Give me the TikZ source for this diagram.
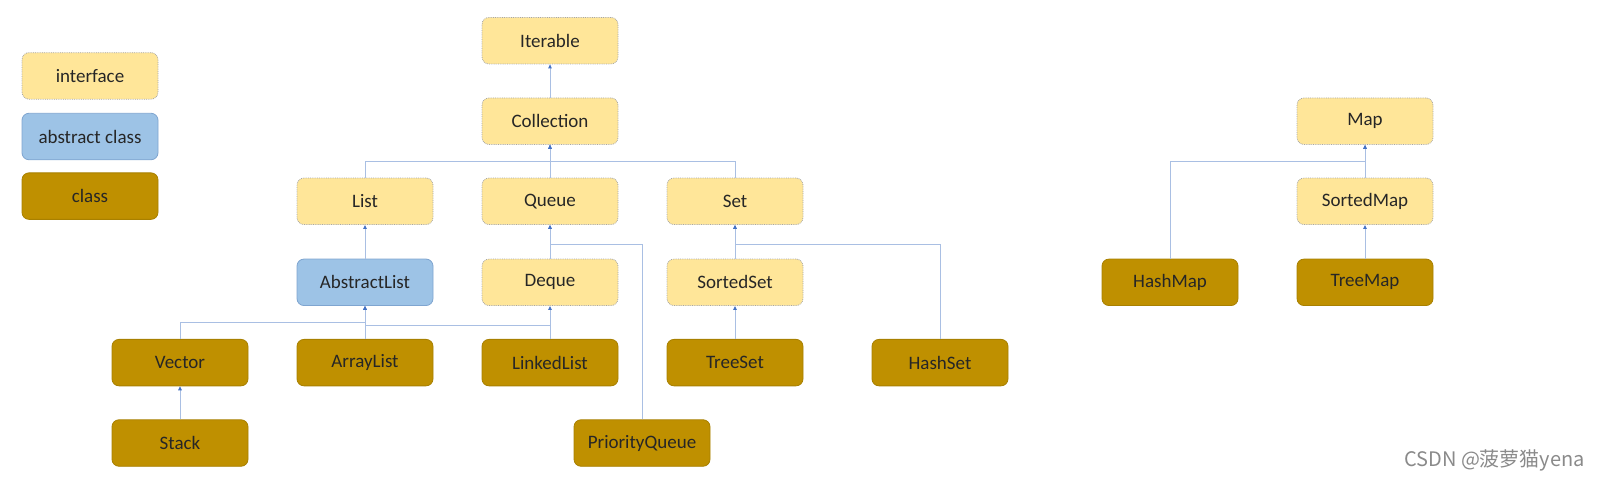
\documentclass[tikz,border=0pt]{standalone}
\usepackage{fontspec}
\setmainfont{Carlito}
\newfontfamily\cjk{Noto Sans CJK SC}
\usetikzlibrary{arrows.meta}
\definecolor{ifill}{HTML}{FFE699}
\definecolor{iborder}{HTML}{A6A6A6}
\definecolor{afill}{HTML}{9DC3E6}
\definecolor{aborder}{HTML}{7FA5D0}
\definecolor{cfill}{HTML}{BF9000}
\definecolor{cborder}{HTML}{A88000}
\definecolor{txt}{HTML}{262626}
\definecolor{lcol}{HTML}{A9BFE3}
\definecolor{acol}{HTML}{4472C4}
\definecolor{wm}{HTML}{8A8A8A}
\begin{document}
\begin{tikzpicture}[x=1pt,y=-1pt,
  box/.style={rounded corners=7pt, minimum width=136pt, minimum height=46.5pt, inner sep=0pt,
    font=\fontsize{19}{22}\selectfont, text=txt},
  iface/.style={box, fill=ifill, draw=iborder, densely dotted, line width=0.8pt},
  absc/.style={box, fill=afill, draw=aborder, line width=0.8pt},
  cls/.style={box, fill=cfill, draw=cborder, line width=0.8pt},
  conn/.style={draw=lcol, line width=0.9pt, -{Triangle[length=4pt,width=3.5pt,color=acol]}}]
\useasboundingbox (0,0) rectangle (1597,485);
% legend
\node[iface] (Lint) at (90,75.9) {interface};
\node[absc] (Labs) at (90,136.5) {abstract class};
\node[cls] (Lcls) at (90,196.1) {class};
% collection tree
\node[iface] (Iterable) at (550,40.7) {Iterable};
\node[iface] (Collection) at (550,121.2) {Collection};
\node[iface] (List) at (365,201.3) {List};
\node[iface] (Queue) at (550,201.3) {Queue};
\node[iface] (Set) at (735,201.3) {Set};
\node[absc] (AbstractList) at (365,282.3) {AbstractList};
\node[iface] (Deque) at (550,282.3) {Deque};
\node[iface] (SortedSet) at (735,282.3) {SortedSet};
\node[cls] (Vector) at (180,362.6) {Vector};
\node[cls] (ArrayList) at (365,362.6) {ArrayList};
\node[cls] (LinkedList) at (550,362.6) {LinkedList};
\node[cls] (TreeSet) at (735,362.6) {TreeSet};
\node[cls] (HashSet) at (940,362.6) {HashSet};
\node[cls] (Stack) at (180,443) {Stack};
\node[cls] (PriorityQueue) at (642,443) {PriorityQueue};
% map tree
\node[iface] (Map) at (1365,121.2) {Map};
\node[iface] (SortedMap) at (1365,201.3) {SortedMap};
\node[cls] (HashMap) at (1170,282.3) {HashMap};
\node[cls] (TreeMap) at (1365,282.3) {TreeMap};
% bus coordinates
\coordinate (cbus) at (550,161);
\coordinate (qbus) at (550,244);
\coordinate (sbus) at (735,244);
\coordinate (abus1) at (365,322);
\coordinate (abus2) at (365,325);
\coordinate (mbus) at (1365,161);
% connectors
\draw[conn] (Collection.north) -- (Iterable.south);
\draw[conn] (List.north) |- (cbus) -- (Collection.south);
\draw[conn] (Set.north) |- (cbus) -- (Collection.south);
\draw[conn] (Queue.north) -- (Collection.south);
\draw[conn] (AbstractList.north) -- (List.south);
\draw[conn] (Deque.north) -- (Queue.south);
\draw[conn] (PriorityQueue.north) |- (qbus) -- (Queue.south);
\draw[conn] (SortedSet.north) -- (Set.south);
\draw[conn] (HashSet.north) |- (sbus) -- (Set.south);
\draw[conn] (TreeSet.north) -- (SortedSet.south);
\draw[conn] (ArrayList.north) -- (AbstractList.south);
\draw[conn] (Vector.north) |- (abus1) -- (AbstractList.south);
\draw[conn] (LinkedList.north) |- (abus2) -- (AbstractList.south);
\draw[conn] (LinkedList.north) -- (Deque.south);
\draw[conn] (Stack.north) -- (Vector.south);
\draw[conn] (SortedMap.north) -- (Map.south);
\draw[conn] (HashMap.north) |- (mbus) -- (Map.south);
\draw[conn] (TreeMap.north) -- (SortedMap.south);
% footer
\node[anchor=east, text=wm, font=\cjk\fontsize{20}{24}\selectfont, inner sep=0pt] (csdn) at (1585,460) {CSDN @菠萝猫yena};
\end{tikzpicture}
\end{document}
